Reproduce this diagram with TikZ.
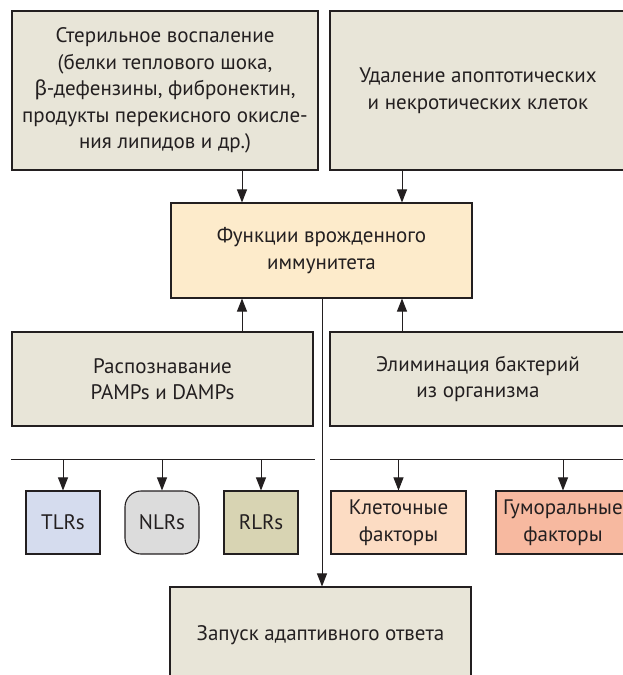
\documentclass[tikz,border=0pt]{standalone}
\usepackage{fontspec}
\setmainfont{PT Sans}
\newfontfamily\grkfont{Fira Sans}
\definecolor{beigeBox}{HTML}{E8E5D8}
\definecolor{yellowBox}{HTML}{FDEBCB}
\definecolor{tlrBlue}{HTML}{D5DCEE}
\definecolor{nlrGray}{HTML}{DCDCDC}
\definecolor{rlrOlive}{HTML}{D8D4B3}
\definecolor{cellPeach}{HTML}{FCDCC3}
\definecolor{humSalmon}{HTML}{F7B9A0}
\definecolor{inkDark}{HTML}{231F20}
\usetikzlibrary{arrows.meta,positioning}

\begin{document}
\begin{tikzpicture}[
                x=1pt, y=-1pt,
                font=\fontsize{21}{26.5}\selectfont,
                blok/.style={rectangle, draw=inkDark, line width=1.1pt, fill=beigeBox, text=inkDark, align=center, inner sep=0pt},
                mali/.style={blok, minimum width=74pt, minimum height=63pt},
                strl/.style={-{Triangle[length=13pt, width=10pt]}, line width=1pt, inkDark},
                linija/.style={line width=1pt, inkDark}
            ]
            \useasboundingbox (0,0) rectangle (622,675);

            % upper row
            \node[blok, minimum width=306pt, minimum height=159pt] (steril) at (165,90.5)
                {Стерильное воспаление\\(белки теплового шока,\\{\grkfont β}-дефензины, фибронектин,\\продукты перекисного окисле-\\ния липидов и др.)};
            \node[blok, minimum width=296pt, minimum height=159pt] (udal) at (478,90.5)
                {Удаление апоптотических\\и некротических клеток};

            % central box
            \node[blok, fill=yellowBox, minimum width=301pt, minimum height=95pt] (funk) at (321.5,250.5)
                {Функции врожденного\\иммунитета};

            % middle row
            \node[blok, minimum width=301pt, minimum height=94pt] (rasp) at (162.5,379)
                {Распознавание\\PAMPs и DAMPs};
            \node[blok, minimum width=296pt, minimum height=94pt] (elim) at (478,379)
                {Элиминация бактерий\\из организма};

            % receptors and factors
            \node[mali, fill=tlrBlue] (tlr) at (63,522.5) {TLRs};
            \node[mali, fill=nlrGray, rounded corners=16pt] (nlr) at (162,522.5) {NLRs};
            \node[mali, fill=rlrOlive] (rlr) at (261,522.5) {RLRs};
            \node[mali, fill=cellPeach, minimum width=135pt] (klet) at (398.5,522.5) {Клеточные\\факторы};
            \node[mali, fill=humSalmon, minimum width=134pt] (gum) at (563,522.5) {Гуморальные\\факторы};

            % bottom box
            \node[blok, minimum width=301pt, minimum height=96pt] (zapusk) at (320.5,635)
                {Запуск адаптивного ответа};

            % arrows into the central box
            \coordinate (kolL) at (242,0);
            \coordinate (kolD) at (402,0);
            \draw[strl] (steril.south -| kolL) -- (funk.north -| kolL);
            \draw[strl] (udal.south -| kolD) -- (funk.north -| kolD);
            \draw[strl] (rasp.north -| kolL) -- (funk.south -| kolL);
            \draw[strl] (elim.north -| kolD) -- (funk.south -| kolD);

            % branching lines
            \coordinate (granL1) at (11,459);
            \coordinate (granL2) at (315,459);
            \coordinate (granD1) at (330,459);
            \coordinate (granD2) at (624,459);
            \draw[linija] (granL1) -- (granL2);
            \draw[linija] (granD1) -- (granD2);
            \foreach \cilj in {tlr,nlr,rlr}
                \draw[strl] (\cilj.north |- granL1) -- (\cilj.north);
            \foreach \cilj in {klet,gum}
                \draw[strl] (\cilj.north |- granD1) -- (\cilj.north);

            % to the adaptive response
            \draw[strl] ([xshift=0.5pt]funk.south) -- ([xshift=1.5pt]zapusk.north);
        \end{tikzpicture}
\end{document}
